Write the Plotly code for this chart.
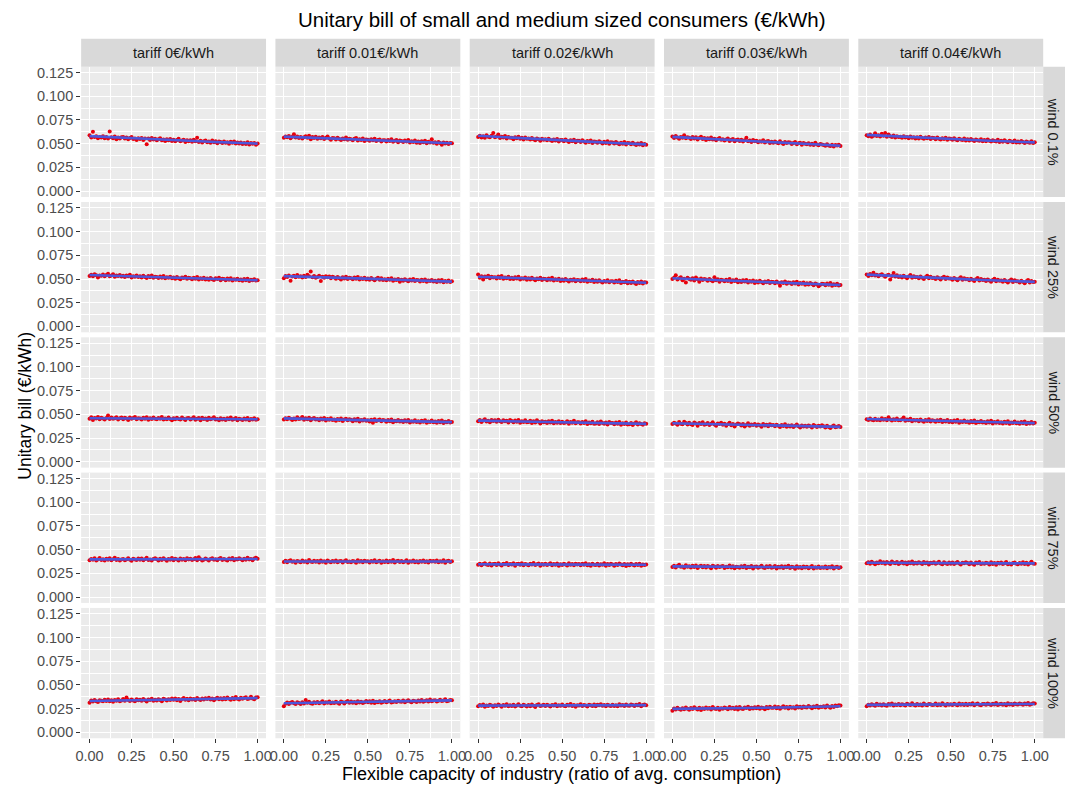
import numpy as np
import plotly.graph_objects as go

# ---------------- data ----------------
tariffs = ["tariff 0€/kWh", "tariff 0.01€/kWh", "tariff 0.02€/kWh", "tariff 0.03€/kWh", "tariff 0.04€/kWh"]
winds = ["wind 0.1%", "wind 25%", "wind 50%", "wind 75%", "wind 100%"]
flex_capacity = [i / 100 for i in range(101)]  # flexible capacity ratio grid 0.00 .. 1.00
y_tick_vals = [0.0, 0.025, 0.05, 0.075, 0.1, 0.125]
y_tick_text = ["0.000", "0.025", "0.050", "0.075", "0.100", "0.125"]
x_tick_vals = [0.0, 0.25, 0.5, 0.75, 1.0]
x_tick_text = ["0.00", "0.25", "0.50", "0.75", "1.00"]
bill_unit = 1e-4  # values below are in 1e-4 €/kWh

# wind 0.1%
w01_t0 = [590,566,625,570,578,557,571,565,578,558,571,555,628,567,558,575,548,565,554,569,
          570,555,565,547,559,570,549,556,538,558,549,561,538,554,494,555,540,559,544,553,
          535,547,558,537,543,528,548,536,549,529,542,526,538,551,526,534,542,518,535,526,
          537,520,541,525,562,519,531,513,527,534,516,524,511,534,515,526,505,522,517,508,
          524,509,516,499,520,509,522,501,513,502,513,497,508,498,514,492,507,499,508,490,503]
w01_t1 = [562,575,569,581,558,572,600,566,577,560,571,556,568,579,563,585,548,570,561,574,
          552,566,558,571,549,563,575,556,541,560,557,544,562,550,538,556,547,566,541,553,
          548,537,551,560,533,546,540,555,529,545,541,530,547,536,552,528,539,544,522,537,
          535,524,540,529,546,520,531,538,516,533,528,517,533,522,540,513,527,519,534,511,
          522,508,526,515,531,505,520,512,546,509,515,500,518,507,489,512,503,510,496,508,504]
w01_t2 = [571,585,566,579,562,590,574,568,583,612,569,577,598,560,573,565,581,556,570,562,
          563,548,568,557,572,551,562,545,566,553,555,543,561,548,537,556,546,532,552,541,
          546,535,552,538,528,544,533,549,524,539,538,527,543,530,519,536,525,541,516,530,
          530,518,536,522,511,528,517,533,507,523,521,510,527,514,503,520,508,525,499,514,
          513,502,519,505,494,511,500,517,491,506,504,494,510,497,486,503,491,507,483,498,490]
w01_t3 = [575,560,582,566,552,571,563,588,558,567,563,549,571,556,567,545,559,574,550,561,
          540,558,547,566,544,553,537,549,561,542,548,533,545,556,529,541,550,527,539,544,
          529,541,522,536,562,527,533,518,538,526,531,515,527,520,536,512,523,529,508,521,
          509,522,513,505,526,511,498,517,508,514,512,498,506,519,493,504,511,490,507,500,
          494,505,489,499,486,509,492,483,497,491,487,478,495,482,476,490,471,485,480,488,475]
w01_t4 = [588,579,596,574,585,610,581,590,576,605,583,612,574,598,579,570,586,566,578,571,
          574,562,579,566,571,557,575,563,569,555,568,556,573,560,551,566,557,571,549,562,
          560,548,565,553,544,558,550,563,541,555,552,541,557,545,536,551,543,540,555,533,
          546,534,549,538,529,544,536,530,547,526,538,527,543,531,522,537,529,523,541,519,
          531,520,535,524,515,530,522,516,533,512,524,513,528,517,508,523,515,509,526,506,514]

# wind 25%
w25_t0 = [532,545,529,551,540,516,538,534,547,530,541,556,528,536,549,525,538,531,543,527,
          533,520,538,529,544,517,530,524,536,521,528,515,534,522,510,531,519,537,513,525,
          520,511,526,514,532,507,519,513,524,509,515,503,521,508,497,517,510,523,502,514,
          509,498,514,503,520,494,507,501,512,496,505,493,510,498,489,507,500,514,486,502,
          499,488,504,492,507,483,497,491,502,486,494,482,499,487,503,479,492,486,497,483,488]
w25_t1 = [509,531,522,538,481,526,533,519,541,524,530,517,535,522,545,528,580,519,532,514,
          521,534,478,525,512,530,518,527,507,523,516,503,521,509,496,518,506,524,500,512,
          509,498,515,502,521,494,508,500,513,496,505,491,510,497,486,503,512,493,507,489,
          498,486,503,491,508,482,496,489,500,471,492,481,497,486,475,494,484,499,478,490,
          487,474,492,480,496,471,485,478,489,473,481,469,486,474,490,466,479,472,484,468,475]
w25_t2 = [548,512,530,495,527,518,533,509,524,515,519,506,526,511,532,503,517,509,523,500,
          512,499,518,505,524,496,509,502,515,493,507,494,512,499,486,505,497,514,490,502,
          500,487,506,492,513,484,497,489,503,480,494,482,500,487,474,492,485,498,477,490,
          488,475,494,480,499,470,485,478,491,468,483,470,487,474,462,480,472,486,465,477,
          476,463,481,468,486,458,471,465,478,456,470,458,474,461,448,467,459,473,452,465,462]
w25_t3 = [499,512,540,495,508,519,488,503,462,514,501,492,508,485,515,497,470,506,489,500,
          495,482,501,488,476,518,486,497,472,491,487,475,493,480,500,469,486,478,494,465,
          481,468,487,474,490,462,478,471,485,458,475,462,481,467,454,473,466,480,457,470,
          468,455,474,460,430,466,459,473,450,463,461,448,466,453,471,443,458,451,464,440,
          455,441,459,447,434,452,445,423,438,449,448,435,452,440,457,429,444,437,449,432,436]
w25_t4 = [548,531,552,539,567,536,545,529,541,550,536,524,538,545,495,532,563,527,539,521,
          529,516,533,522,509,527,541,514,530,518,522,508,526,514,501,519,533,507,523,511,
          514,501,519,507,494,512,525,499,516,504,506,493,511,499,487,504,518,491,508,497,
          499,486,503,492,479,497,510,484,501,489,492,479,496,484,471,490,503,476,493,482,
          485,471,489,477,464,482,496,469,486,475,477,464,481,470,456,475,489,462,479,468,470]

# wind 50%
w50_t0 = [452,468,441,460,455,472,448,463,457,444,462,488,451,466,453,459,470,446,458,465,
          449,463,456,441,467,452,460,471,447,458,455,446,464,452,469,443,458,450,465,454,
          447,461,453,472,444,457,449,466,451,438,459,448,464,451,445,467,453,440,458,462,
          446,455,469,443,452,460,438,464,450,457,441,463,448,455,468,444,451,437,459,446,
          452,440,458,447,466,443,450,461,436,454,448,439,455,444,462,437,451,445,458,442,447]
w50_t1 = [444,458,449,463,452,440,457,446,468,451,455,472,443,459,448,464,438,453,461,445,
          451,437,456,445,462,434,450,443,458,440,446,433,451,439,457,430,445,452,436,448,
          442,428,447,435,453,425,440,434,449,431,438,425,443,410,449,430,436,444,427,439,
          434,421,439,428,445,417,432,426,441,423,431,418,436,424,441,413,428,422,437,419,
          428,414,432,421,438,411,425,419,434,416,424,412,429,417,434,408,422,415,430,413,419]
w50_t2 = [428,440,419,435,447,424,433,415,441,429,436,421,443,427,418,438,426,432,414,440,
          430,417,435,422,441,412,428,420,436,415,418,431,409,426,413,437,421,404,428,416,
          422,409,427,414,433,405,420,412,428,407,421,408,413,427,401,419,410,431,406,415,
          415,402,420,407,426,398,413,405,421,400,404,417,398,425,409,401,414,392,420,407,
          408,395,413,400,419,391,406,398,414,393,396,409,388,402,415,393,405,399,390,406,400]
w50_t3 = [398,412,403,389,418,401,395,421,407,392,410,396,388,414,402,380,409,397,417,391,
          395,408,386,401,415,392,379,404,397,410,389,401,378,396,410,385,398,372,392,404,
          395,383,399,371,388,405,380,393,386,398,378,392,384,368,397,381,389,373,394,385,
          387,374,391,379,365,386,376,395,370,382,372,385,366,380,392,375,361,383,371,378,
          369,382,373,360,386,376,365,379,371,384,374,362,378,367,355,372,381,364,370,376,366]
w50_t4 = [448,439,455,443,436,452,441,446,437,458,443,451,438,470,444,434,449,440,456,437,
          436,449,466,431,445,438,452,427,441,435,440,427,446,433,422,441,429,447,425,436,
          431,422,437,426,443,418,432,425,439,420,429,416,434,421,440,412,427,420,435,418,
          424,411,429,417,434,408,422,415,430,413,420,407,426,413,431,403,418,411,427,409,
          417,404,422,409,427,400,414,407,423,405,413,401,419,406,424,397,411,404,420,402,410]

# wind 75%
w75_t0 = [389,401,393,408,384,397,412,390,399,386,403,392,409,387,398,415,391,402,385,397,
          401,388,396,410,393,383,404,397,391,406,392,405,387,399,413,390,396,384,402,408,
          398,386,403,391,409,395,382,400,394,411,389,404,396,385,407,393,401,388,410,397,
          403,391,398,412,387,420,399,385,394,406,396,384,401,409,392,398,387,403,411,390,
          400,393,386,405,397,412,389,402,395,408,399,387,404,392,413,396,401,388,407,415,404]
w75_t1 = [370,383,366,379,388,372,376,362,381,374,368,385,371,378,364,390,375,369,382,373,
          379,365,384,371,377,361,386,374,368,380,372,386,367,376,381,363,378,389,370,375,
          366,380,374,362,387,371,379,368,383,374,377,364,381,372,388,367,375,382,361,378,
          370,384,366,379,373,391,364,376,382,369,381,367,375,388,362,378,371,384,368,376,
          363,379,372,386,369,377,365,383,374,380,371,385,366,378,373,389,362,376,382,369,377]
w75_t2 = [341,352,336,348,357,343,339,354,332,347,350,338,356,344,333,351,345,360,337,349,
          343,355,331,347,352,340,357,336,349,344,335,350,342,358,338,346,353,331,348,341,
          352,337,345,356,334,349,341,353,330,346,339,351,343,333,355,340,348,336,352,344,
          347,334,350,341,357,336,345,329,351,340,338,352,333,346,341,355,330,347,339,350,
          344,331,349,337,353,342,335,348,328,345,336,350,341,333,347,338,352,330,344,339,342]
w75_t3 = [317,330,312,326,340,318,323,308,334,320,325,311,329,316,333,306,322,331,314,327,
          312,326,318,304,330,321,309,327,316,322,328,307,320,314,332,311,325,303,319,316,
          310,324,315,329,306,320,313,327,301,318,322,308,317,330,312,305,324,315,328,310,
          315,327,302,319,311,325,307,321,314,329,306,320,313,298,324,310,317,303,322,311,
          318,304,314,326,300,315,309,321,306,313,309,321,303,316,311,325,300,314,319,306,315]
w75_t4 = [357,368,351,372,360,346,365,355,377,359,366,352,370,358,347,374,361,355,369,349,
          360,371,354,363,345,368,357,375,350,362,353,366,358,347,370,356,364,342,361,355,
          368,350,359,372,353,345,366,357,349,363,351,364,347,360,370,354,343,362,356,367,
          359,346,365,352,341,363,355,369,348,357,350,362,355,344,368,349,358,340,361,353,
          363,348,357,370,346,354,342,359,365,351,345,358,352,366,349,361,343,356,371,354,350]

# wind 100%
w100_t0 = [312,336,325,341,329,319,338,333,327,344,331,346,327,338,323,342,334,350,329,337,
           352,333,368,341,330,346,336,328,349,339,344,332,351,338,326,347,340,355,334,343,
           337,350,341,329,354,345,336,349,340,357,343,356,339,351,331,348,362,344,353,338,
           358,345,352,340,363,349,341,356,347,360,351,364,345,357,339,353,366,348,359,346,
           362,350,368,354,343,361,349,372,355,347,366,353,361,370,351,358,374,356,349,368,371]
w100_t1 = [275,302,314,298,311,320,306,300,317,309,299,316,305,340,312,323,307,301,318,310,
           320,306,315,327,303,318,311,324,308,314,309,322,313,301,326,316,305,320,330,312,
           324,311,319,306,328,315,322,309,317,331,318,327,313,332,309,323,316,329,312,321,
           330,317,325,335,314,321,328,319,333,324,322,336,318,329,339,324,316,332,327,320,
           335,326,341,322,331,338,324,345,329,336,339,326,334,343,330,337,348,328,333,341,338]
w100_t2 = [274,288,281,293,270,284,278,291,283,269,286,277,294,282,271,289,280,296,275,285,
           279,292,273,284,297,281,276,290,283,272,288,276,293,281,268,287,295,279,284,290,
           277,291,283,272,289,282,296,274,286,280,293,281,275,290,284,298,278,287,271,285,
           282,295,277,289,283,273,292,286,279,294,276,290,285,297,280,288,274,291,283,278,
           292,279,286,274,295,283,289,277,293,284,281,294,287,279,291,285,298,276,288,293,286]
w100_t3 = [228,252,241,259,246,237,255,243,261,249,238,257,246,264,250,241,260,236,253,247,
           262,248,256,241,266,252,245,259,238,254,249,263,255,243,268,251,259,246,264,240,
           266,252,247,263,256,270,245,258,251,265,255,269,248,262,257,243,266,253,271,260,
           259,272,254,266,249,263,276,258,268,252,271,258,265,252,275,262,269,256,273,264,
           262,277,268,255,273,264,280,259,271,266,275,263,284,270,258,278,267,282,274,286,283]
w100_t4 = [276,292,284,297,289,281,302,287,294,283,295,286,280,299,291,304,284,293,289,298,
           285,296,290,282,301,293,287,306,291,284,298,288,294,283,305,291,286,300,295,289,
           292,303,286,297,289,308,294,282,299,290,296,287,301,293,285,304,290,298,288,302,
           289,299,294,307,286,296,303,291,285,300,298,290,305,295,288,302,293,310,289,297,
           301,291,298,286,306,294,300,289,304,296,293,305,298,290,303,296,310,292,299,307,304]

bills = [
    [w01_t0, w01_t1, w01_t2, w01_t3, w01_t4],
    [w25_t0, w25_t1, w25_t2, w25_t3, w25_t4],
    [w50_t0, w50_t1, w50_t2, w50_t3, w50_t4],
    [w75_t0, w75_t1, w75_t2, w75_t3, w75_t4],
    [w100_t0, w100_t1, w100_t2, w100_t3, w100_t4],
]

# ---------------- layout geometry (pixels) ----------------
W, H = 1065, 789
col_x0, col_w, col_step = 76.0, 187.0, 196.5
row_y0, row_h, row_step = 65.0, 131.0, 136.0
strip_top_h = 28.0
strip_right_w = 28.0

def px(x):
    return x / W

def py(y):
    return 1 - y / H

FONT = "Liberation Sans, Arial, sans-serif"
TICK_SIZE = 14.5
STRIP_SIZE = 14.5
fig = go.Figure()
layout = dict(
    width=W, height=H, autosize=False,
    margin=dict(l=0, r=0, t=0, b=0),
    paper_bgcolor="white", plot_bgcolor="#EBEBEB",
    showlegend=False,
    font=dict(family=FONT, color="#4D4D4D"),
)
shapes = []
annotations = []

x_minor = [0.125, 0.375, 0.625, 0.875]
y_minor = [0.0125, 0.0375, 0.0625, 0.0875, 0.1125]

for r in range(5):
    for c in range(5):
        k = r * 5 + c + 1
        xa = "x" if k == 1 else f"x{k}"
        ya = "y" if k == 1 else f"y{k}"
        xname = "xaxis" if k == 1 else f"xaxis{k}"
        yname = "yaxis" if k == 1 else f"yaxis{k}"
        x0 = col_x0 + c * col_step
        x1 = x0 + col_w
        y0 = row_y0 + r * row_step
        y1 = y0 + row_h

        yvals = np.array(bills[r][c]) * bill_unit
        xvals = np.array(flex_capacity)
        # smoothing line (like geom_smooth) fitted to the data
        coef = np.polyfit(xvals, yvals, 2)
        ysmooth = np.polyval(coef, xvals)

        fig.add_trace(go.Scatter(x=xvals, y=yvals, mode="markers", xaxis=xa, yaxis=ya,
                                 marker=dict(color="#E8000B", size=4.0, line=dict(width=0)),
                                 hoverinfo="skip"))
        fig.add_trace(go.Scatter(x=xvals, y=ysmooth, mode="lines", xaxis=xa, yaxis=ya,
                                 line=dict(color="#3366FF", width=2.6), opacity=0.85,
                                 hoverinfo="skip"))

        bottom = (r == 4)
        left = (c == 0)
        layout[xname] = dict(
            domain=[px(x0), px(x1)], anchor=ya, range=[-0.05, 1.05],
            tickmode="array", tickvals=x_tick_vals, ticktext=x_tick_text,
            showticklabels=bottom, ticks="outside" if bottom else "",
            ticklen=4, tickwidth=1, tickcolor="#333333",
            tickfont=dict(size=TICK_SIZE, color="#4D4D4D", family=FONT),
            showgrid=True, gridcolor="white", gridwidth=1.1, zeroline=False,
            showline=False,
            minor=dict(tickvals=x_minor, showgrid=True, gridcolor="white", gridwidth=0.5, ticks=""),
        )
        layout[yname] = dict(
            domain=[py(y1), py(y0)], anchor=xa, range=[-0.00625, 0.13125],
            tickmode="array", tickvals=y_tick_vals, ticktext=y_tick_text,
            showticklabels=left, ticks="outside" if left else "",
            ticklen=4, tickwidth=1, tickcolor="#333333",
            tickfont=dict(size=TICK_SIZE, color="#4D4D4D", family=FONT),
            showgrid=True, gridcolor="white", gridwidth=1.1, zeroline=False,
            showline=False,
            minor=dict(tickvals=y_minor, showgrid=True, gridcolor="white", gridwidth=0.5, ticks=""),
        )

# top strips
for c, lab in enumerate(tariffs):
    x0 = col_x0 + c * col_step
    x1 = x0 + col_w
    shapes.append(dict(type="rect", xref="paper", yref="paper",
                       x0=px(x0), x1=px(x1), y0=py(row_y0), y1=py(row_y0 - strip_top_h),
                       fillcolor="#D9D9D9", line=dict(width=0), layer="below"))
    annotations.append(dict(text=lab, xref="paper", yref="paper",
                            x=px((x0 + x1) / 2), y=py(row_y0 - strip_top_h / 2),
                            showarrow=False, font=dict(size=STRIP_SIZE, color="#1A1A1A", family=FONT),
                            xanchor="center", yanchor="middle"))

# right strips
sx0 = col_x0 + 4 * col_step + col_w
for r, lab in enumerate(winds):
    y0 = row_y0 + r * row_step
    y1 = y0 + row_h
    shapes.append(dict(type="rect", xref="paper", yref="paper",
                       x0=px(sx0), x1=px(sx0 + strip_right_w), y0=py(y1), y1=py(y0),
                       fillcolor="#D9D9D9", line=dict(width=0), layer="below"))
    annotations.append(dict(text=lab, xref="paper", yref="paper",
                            x=px(sx0 + 10), y=py((y0 + y1) / 2),
                            showarrow=False, textangle=90,
                            font=dict(size=STRIP_SIZE, color="#1A1A1A", family=FONT),
                            xanchor="center", yanchor="middle"))

# titles
annotations.append(dict(text="Unitary bill of small and medium sized consumers (€/kWh)",
                        xref="paper", yref="paper", x=px(562), y=py(18),
                        showarrow=False, font=dict(size=20.5, color="#000000", family=FONT),
                        xanchor="center", yanchor="middle"))
annotations.append(dict(text="Flexible capacity of industry (ratio of avg. consumption)",
                        xref="paper", yref="paper", x=px(562), y=py(776),
                        showarrow=False, font=dict(size=18, color="#000000", family=FONT),
                        xanchor="center", yanchor="middle"))
annotations.append(dict(text="Unitary bill (€/kWh)",
                        xref="paper", yref="paper", x=px(19), y=py(406),
                        showarrow=False, textangle=-90,
                        font=dict(size=17.5, color="#000000", family=FONT),
                        xanchor="center", yanchor="middle"))

layout["shapes"] = shapes
layout["annotations"] = annotations
fig.update_layout(**layout)
fig.write_html("out.html")
